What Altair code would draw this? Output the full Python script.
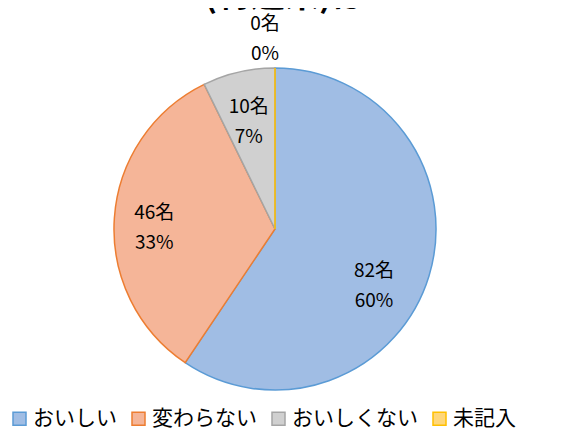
import altair as alt
import pandas as pd

categories = ["おいしい", "変わらない", "おいしくない", "未記入"]
counts = [82, 46, 10, 0]
percent_labels = ["60%", "33%", "7%", "0%"]
fill_colors = ["#a0bde4", "#f5b598", "#d0d0d0", "#ffd77a"]
stroke_colors = ["#5b9bd5", "#ed7d31", "#a5a5a5", "#ffc000"]
title_text = "(特選米)は"

FONT = "Noto Sans CJK JP"
CX, CY, R = 267, 221, 161

df = pd.DataFrame({
    "category": categories,
    "count": counts,
    "order": list(range(len(categories))),
    "label": [f"{c}名\n{p}" for c, p in zip(counts, percent_labels)],
})

legend_kw = dict(
    orient="none", legendX=1, legendY=400, direction="horizontal",
    symbolType="square", symbolSize=169, symbolStrokeWidth=1.5,
    labelFontSize=21, labelFont=FONT, labelColor="#000000", labelOffset=3,
    columnPadding=11, title=None, padding=0, labelLimit=300,
)

base = alt.Chart(df).encode(
    theta=alt.Theta("count:Q", stack=True),
    order=alt.Order("order:Q"),
)

pie = base.mark_arc(outerRadius=R, strokeWidth=1.5, x=CX, y=CY).encode(
    fill=alt.Fill("category:N", sort=categories,
                  scale=alt.Scale(domain=categories, range=fill_colors),
                  legend=alt.Legend(**legend_kw)),
    stroke=alt.Stroke("category:N", sort=categories,
                      scale=alt.Scale(domain=categories, range=stroke_colors),
                      legend=alt.Legend(**legend_kw)),
)

label_style = [(116, -12, 8), (116, -5, -8), (116, 0, -9), (192, -10, -13)]
layers = [pie]
for i, (r, dx, dy) in enumerate(label_style):
    layers.append(
        base.transform_calculate(t=f"datum.order == {i} ? datum.label : ''")
        .mark_text(radius=r, dx=dx, dy=dy, x=CX, y=CY, fontSize=19,
                   lineHeight=30, lineBreak="\n", font=FONT, color="#000000")
        .encode(text="t:N")
    )

title = alt.Chart(pd.DataFrame({"t": [title_text]})).mark_text(
    font=FONT, fontSize=34, fontWeight="bold", baseline="alphabetic", color="#000000"
).encode(text="t:N", x=alt.value(277), y=alt.value(-1))
layers.append(title)

chart = alt.layer(*layers).properties(
    width=547, height=424, autosize=alt.AutoSizeParams(type="none"), padding=0
).configure_view(stroke=None)

chart.save("out.html", embed_options={"renderer": "svg", "actions": False})
